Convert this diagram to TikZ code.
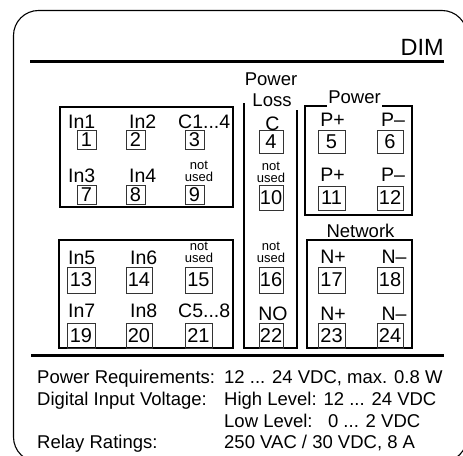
\documentclass[tikz,border=0pt]{standalone}
\usepackage{fontspec}
\setmainfont{Liberation Sans}
\begin{document}
\begin{tikzpicture}[x=1pt,y=-1pt,
  term/.style={draw=black!80, line width=0.9pt, inner sep=0pt, font=\fontsize{20}{20}\selectfont},
  lbl/.style={anchor=base west, inner sep=0pt, font=\fontsize{19.5}{19.5}\selectfont},
  clbl/.style={anchor=base, inner sep=0pt, font=\fontsize{19.5}{19.5}\selectfont},
  nu/.style={anchor=south, align=center, inner sep=0pt, font=\fontsize{13}{12.5}\selectfont},
  grp/.style={draw, line width=1.3pt},
  rule/.style={line width=3pt},
  info/.style={anchor=base west, inner sep=0pt, font=\fontsize{18.5}{18.5}\selectfont}]
\useasboundingbox (0,0) rectangle (463,455);
\clip (0,0) rectangle (463,455);
% outer frame
\draw[line width=1.1pt, rounded corners=25pt] (13.5,10.5) rectangle (467,462);
% title
\node[anchor=base east, inner sep=0pt, font=\fontsize{23.5}{23.5}\selectfont] (dim) at (444,55) {DIM};
\coordinate (r1a) at (30,61); \coordinate (r1b) at (444,61);
\draw[rule] (r1a) -- (r1b);
\coordinate (r2a) at (31,355.5); \coordinate (r2b) at (444,355.5);
\draw[rule] (r2a) -- (r2b);
% groups
\draw[grp] (60,107) rectangle (233,207);
\draw[grp] (59,240) rectangle (233,348);
\draw[grp] (244,103) -- (244,348) -- (297,348) -- (297,110);
\draw[grp] (327,106) -- (305,106) -- (305,215) -- (412,215) -- (412,106) -- (382,106);
\draw[grp] (307,240) rectangle (412,348);
% group titles
\node[clbl, font=\fontsize{18.5}{18.5}\selectfont] (pl1) at (271,85) {Power};
\node[clbl, font=\fontsize{18.5}{18.5}\selectfont] (pl2) at (272,106) {Loss};
\node[clbl, font=\fontsize{18.5}{18.5}\selectfont] (pw) at (354.5,103) {Power};
\node[clbl, font=\fontsize{18.5}{18.5}\selectfont] (nw) at (360.5,237) {Network};
% terminals upper left
\node[term, minimum width=19pt, minimum height=19pt] (t1) at (86.5,139.5) {1};
\node[term, minimum width=19pt, minimum height=19pt] (t2) at (135.5,139.5) {2};
\node[term, minimum width=19pt, minimum height=19pt] (t3) at (194.5,139.5) {3};
\node[term, minimum width=19pt, minimum height=19pt] (t7) at (86.5,194.5) {7};
\node[term, minimum width=19pt, minimum height=19pt] (t8) at (135.5,194.5) {8};
\node[term, minimum width=19pt, minimum height=19pt] (t9) at (194.5,194.5) {9};
\node[lbl] (l1) at (68,128) {In1};
\node[lbl] (l2) at (129,128) {In2};
\node[lbl] (l3) at (178,128) {C1...4};
\node[lbl] (l7) at (68,182) {In3};
\node[lbl] (l8) at (129,182) {In4};
\node[nu] (l9) at (199,182) {not\\used};
% power loss
\node[term, minimum width=24pt, minimum height=23pt] (t4) at (271,141.5) {4};
\node[term, minimum width=24pt, minimum height=25pt] (t10) at (271,197.5) {10};
\node[term, minimum width=24pt, minimum height=26pt] (t16) at (271,280) {16};
\node[term, minimum width=24pt, minimum height=25pt] (t22) at (271,335.5) {22};
\node[clbl] (l4) at (272.5,130) {C};
\node[nu] (l10) at (271,183) {not\\used};
\node[nu] (l16) at (271,263) {not\\used};
\node[clbl] (l22) at (273,320) {NO};
% power
\node[term, minimum width=27pt, minimum height=23pt] (t5) at (331.5,141.5) {5};
\node[term, minimum width=26pt, minimum height=23pt] (t6) at (390,141.5) {6};
\node[term, minimum width=27pt, minimum height=24pt] (t11) at (331.5,198) {11};
\node[term, minimum width=26pt, minimum height=24pt] (t12) at (390,198) {12};
\node[clbl] (l5) at (332.5,126) {P+};
\node[clbl] (l6) at (393,126) {P--};
\node[clbl] (l11) at (332.5,181) {P+};
\node[clbl] (l12) at (393,181) {P--};
% lower left
\node[term, minimum width=28pt, minimum height=26pt] (t13) at (81,280) {13};
\node[term, minimum width=26pt, minimum height=26pt] (t14) at (139,280) {14};
\node[term, minimum width=27pt, minimum height=26pt] (t15) at (198.5,280) {15};
\node[term, minimum width=28pt, minimum height=25pt] (t19) at (81,335.5) {19};
\node[term, minimum width=26pt, minimum height=25pt] (t20) at (139,335.5) {20};
\node[term, minimum width=27pt, minimum height=25pt] (t21) at (198.5,335.5) {21};
\node[lbl] (l13) at (68,264) {In5};
\node[lbl] (l14) at (130,264) {In6};
\node[nu] (l15) at (199,263) {not\\used};
\node[lbl] (l19) at (68,317) {In7};
\node[lbl] (l20) at (130,317) {In8};
\node[lbl] (l21) at (178,317) {C5...8};
% network
\node[term, minimum width=27pt, minimum height=26pt] (t17) at (331.5,280) {17};
\node[term, minimum width=26pt, minimum height=26pt] (t18) at (390,280) {18};
\node[term, minimum width=27pt, minimum height=25pt] (t23) at (331.5,335.5) {23};
\node[term, minimum width=26pt, minimum height=25pt] (t24) at (390,335.5) {24};
\node[clbl] (l17) at (333,263) {N+};
\node[clbl] (l18) at (394,263) {N--};
\node[clbl] (l23) at (333,320) {N+};
\node[clbl] (l24) at (394,320) {N--};
% info text
\node[info] (i1) at (37,383) {Power Requirements:};
\node[info] (v1) at (224,383) {12 ... 24 VDC, max. 0.8 W};
\node[info] (i2) at (37,405) {Digital Input Voltage:};
\node[info] (v2) at (224,405) {High Level: 12 ... 24 VDC};
\node[info] (v3) at (224,427) {Low Level:\ \ \ 0 ... 2 VDC};
\node[info] (i4) at (37,448) {Relay Ratings:};
\node[info] (v4) at (224,448) {250 VAC / 30 VDC, 8 A};
\end{tikzpicture}
\end{document}
